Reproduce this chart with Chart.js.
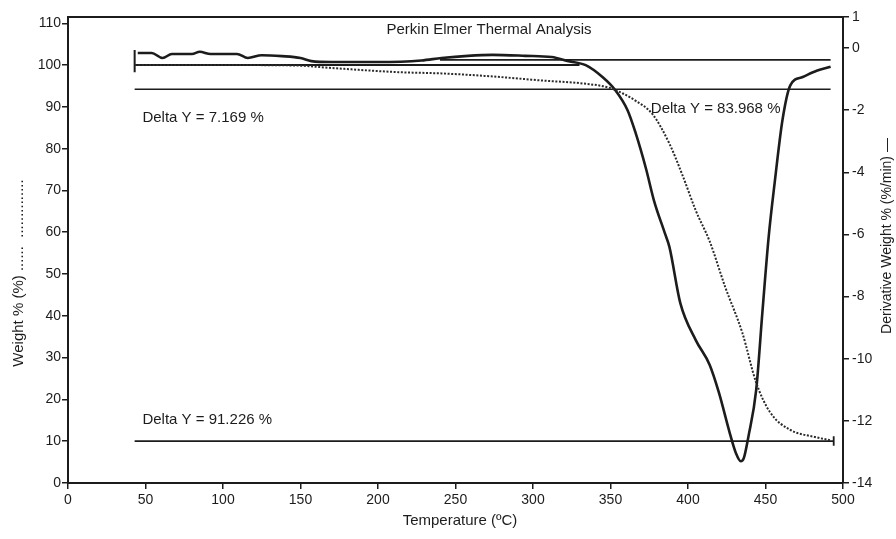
<!DOCTYPE html>
<html>
<head>
<meta charset="utf-8">
<script src="https://cdn.jsdelivr.net/npm/chart.js@4.4.0/dist/chart.umd.min.js"></script>
<style>
  html, body { margin: 0; padding: 0; background: #fff; }
</style>
</head>
<body>
<canvas id="tgaChart" width="896" height="539"></canvas>
<script>
// Weight % (dotted trace)
const weightTemp = [43, 100, 146, 170, 213, 241, 273, 306, 332, 349, 358, 366, 377, 388, 397, 405, 414, 424, 435, 444, 453, 466, 482, 492];
const weightPct  = [100, 100, 99.9, 99.3, 98.3, 98.0, 97.3, 96.3, 95.6, 94.6, 93.2, 91.5, 88.3, 81.2, 73.1, 65.2, 57.8, 46.9, 36.0, 24.0, 16.9, 12.7, 11.0, 10.2];

// Derivative weight %/min (solid trace, right axis)
const derivTemp = [45, 54, 61, 67, 80, 85, 92, 109, 116, 125, 138, 150, 157, 170, 200, 228, 241, 258, 274, 295, 312, 323, 334, 345, 353, 361, 366, 373, 378, 385, 388, 395, 405, 414, 420, 427, 431, 434, 436, 439, 444, 448, 452, 456, 461, 466, 474, 483, 492];
const derivRate = [-0.16, -0.16, -0.32, -0.19, -0.19, -0.12, -0.19, -0.19, -0.32, -0.23, -0.26, -0.32, -0.42, -0.45, -0.45, -0.4, -0.32, -0.25, -0.22, -0.25, -0.29, -0.42, -0.55, -0.94, -1.35, -2.0, -2.7, -3.9, -4.9, -5.95, -6.4, -8.2, -9.4, -10.2, -11.1, -12.4, -13.05, -13.3, -13.2, -12.5, -11.0, -8.5, -6.1, -4.3, -2.3, -1.2, -0.93, -0.73, -0.6];

// tick values
const tempTicks = [0, 50, 100, 150, 200, 250, 300, 350, 400, 450, 500];
const weightTicks = [0, 10, 20, 30, 40, 50, 60, 70, 80, 90, 100, 110];
const derivTicks = [-14, -12, -10, -8, -6, -4, -2, 0, 1];

// Delta Y step markers from the instrument software
const startLevelTemp = [43, 330];   const startLevel = 100;
const derivBaseTemp  = [240, 492];  const derivBase  = -0.38;
const stepTemp       = [43, 492];   const stepLevel  = 94.2;
const residueTemp    = [43, 494];   const residue    = 10;
const startBar = [103.6, 98.3];
const endBar   = [11.2, 8.9];

const deltaLabels = ['Delta Y = 7.169 %', 'Delta Y = 83.968 %', 'Delta Y = 91.226 %'];
const deltaAnchorT = [48, 376, 48];
const deltaAnchorW = [87.3, 89.5, 15.1];

const ink = '#1c1c1c';
const fontFam = '"Liberation Sans", Arial, sans-serif';
const pts = (xs, ys) => xs.map((x, i) => ({ x: x, y: Array.isArray(ys) ? ys[i] : ys }));

function refLine(data, axis, width) {
  return { data: data, yAxisID: axis, borderColor: ink, borderWidth: width || 1.6, pointRadius: 0, tension: 0 };
}

const decor = {
  id: 'decor',
  afterDraw(chart) {
    const c = chart.ctx, a = chart.chartArea;
    const sx = chart.scales.x, sy = chart.scales.y;
    c.save();
    // top frame line
    c.strokeStyle = ink; c.lineWidth = 2;
    c.beginPath(); c.moveTo(a.left, a.top); c.lineTo(a.right, a.top); c.stroke();

    c.fillStyle = ink;
    c.textBaseline = 'middle';
    c.font = '15px ' + fontFam;
    c.textAlign = 'center';
    c.fillText('Perkin Elmer Thermal Analysis', 489, 30);

    c.font = '15px ' + fontFam;
    c.textAlign = 'left';
    deltaLabels.forEach((t, i) => {
      c.fillText(t, sx.getPixelForValue(deltaAnchorT[i]), sy.getPixelForValue(deltaAnchorW[i]));
    });

    // axis titles
    c.font = '15px ' + fontFam;
    c.textAlign = 'center';
    c.fillText('Temperature (\u00baC)', 460, 521);

    c.save();
    c.translate(19, 273); c.rotate(-Math.PI / 2);
    c.fillText('Weight % (%) ......  ..............', 0, 0);
    c.restore();

    c.font = '14px ' + fontFam;
    c.save();
    c.translate(887, 236); c.rotate(-Math.PI / 2);
    c.fillText('Derivative Weight % (%/min) \u2014', 0, 0);
    c.restore();
    c.restore();
  }
};

const axisStyle = {
  grid: { drawOnChartArea: false, drawTicks: true, tickLength: 6, color: ink, lineWidth: 1.5 },
  border: { display: true, color: ink, width: 2 }
};
const tickFont = { family: fontFam, size: 14 };

new Chart(document.getElementById('tgaChart'), {
  type: 'line',
  data: {
    datasets: [
      { label: 'Weight %', data: pts(weightTemp, weightPct), yAxisID: 'y', borderColor: '#2a2a2a', borderWidth: 2, borderDash: [2, 1.6], pointRadius: 0, cubicInterpolationMode: 'monotone' },
      { label: 'Derivative Weight %', data: pts(derivTemp, derivRate), yAxisID: 'y2', borderColor: ink, borderWidth: 2.6, pointRadius: 0, cubicInterpolationMode: 'monotone' },
      refLine(pts(startLevelTemp, startLevel), 'y', 2),
      refLine(pts(derivBaseTemp, derivBase), 'y2', 1.6),
      refLine(pts(stepTemp, stepLevel), 'y', 1.6),
      refLine(pts(residueTemp, residue), 'y', 1.8),
      refLine(pts([startLevelTemp[0], startLevelTemp[0]], startBar), 'y', 2),
      refLine(pts([residueTemp[1], residueTemp[1]], endBar), 'y', 1.8)
    ]
  },
  options: {
    responsive: false,
    animation: false,
    devicePixelRatio: 1,
    layout: { padding: { top: 17, left: 0, right: 0, bottom: 0 } },
    plugins: { legend: { display: false }, tooltip: { enabled: false } },
    scales: {
      x: {
        type: 'linear', min: 0, max: 500,
        afterBuildTicks: s => { s.ticks = tempTicks.map(v => ({ value: v })); },
        afterFit: s => { s.height = 56; },
        ticks: { font: tickFont, color: ink, padding: 3, maxRotation: 0 },
        ...axisStyle
      },
      y: {
        position: 'left', min: 0, max: 111.5,
        afterBuildTicks: s => { s.ticks = weightTicks.map(v => ({ value: v })); },
        afterFit: s => { s.width = 68; },
        ticks: { font: tickFont, color: ink, padding: 1 },
        ...axisStyle
      },
      y2: {
        position: 'right', min: -14, max: 1,
        afterBuildTicks: s => { s.ticks = derivTicks.map(v => ({ value: v })); },
        afterFit: s => { s.width = 53; },
        ticks: { font: tickFont, color: ink, padding: 3 },
        ...axisStyle
      }
    }
  },
  plugins: [decor]
});
</script>
</body>
</html>
